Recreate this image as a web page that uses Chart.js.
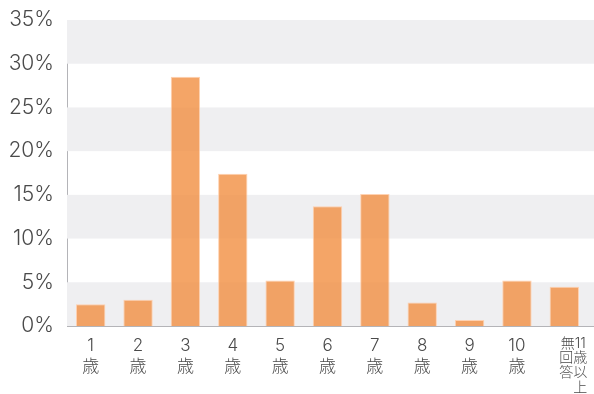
<!DOCTYPE html>
<html>
<head>
<meta charset="utf-8">
<script src="https://cdn.jsdelivr.net/npm/chart.js@4"></script>
<style>
  html, body { margin: 0; padding: 0; background: #fff; }
  #wrap { width: 594px; height: 394px; }
</style>
</head>
<body>
<div id="wrap"><canvas id="ageChart" width="594" height="394"></canvas></div>
<script>
const categories = [
  ['1', '歳'], ['2', '歳'], ['3', '歳'], ['4', '歳'], ['5', '歳'],
  ['6', '歳'], ['7', '歳'], ['8', '歳'], ['9', '歳'], ['10', '歳'],
  ['　 無11', '　 回歳', '　 答以', '　 　上', '　 　・']
];
const shares = [2.5, 3.0, 28.5, 17.4, 5.2, 13.7, 15.1, 2.7, 0.7, 5.2, 4.5];
const yTicks = [0, 5, 10, 15, 20, 25, 30, 35];

const fontFamily = "'Inter', 'Helvetica Neue', 'Noto Sans CJK JP', sans-serif";
const lastIdx = categories.length - 1;

// alternating grey bands, drawn from the y scale
const bandPlugin = {
  id: 'bands',
  beforeDatasetsDraw(chart) {
    const { ctx, chartArea, scales } = chart;
    const y = scales.y;
    ctx.save();
    ctx.fillStyle = '#efeff1';
    for (let i = 0; i < yTicks.length - 1; i++) {
      if (i % 2 !== 0) continue;
      const top = y.getPixelForValue(yTicks[i + 1]);
      const bottom = y.getPixelForValue(yTicks[i]);
      ctx.fillRect(chartArea.left, top, chart.width - chartArea.left, bottom - top);
    }
    ctx.strokeStyle = '#b4b4b8';
    ctx.lineWidth = 1;
    ctx.beginPath();
    ctx.moveTo(chartArea.right, chartArea.bottom + 0.5);
    ctx.lineTo(chart.width, chartArea.bottom + 0.5);
    ctx.stroke();
    ctx.restore();
  }
};

const ctx = document.getElementById('ageChart').getContext('2d');
new Chart(ctx, {
  type: 'bar',
  data: {
    labels: categories,
    datasets: [{
      data: shares,
      backgroundColor: 'rgba(241,145,70,0.82)',
      borderColor: 'rgba(255,205,170,0.9)',
      borderWidth: { top: 1, left: 1, right: 1, bottom: 0 },
      barPercentage: 0.62,
      categoryPercentage: 1.0
    }]
  },
  plugins: [bandPlugin],
  options: {
    responsive: false,
    animation: false,
    layout: { padding: { top: 20, right: 6, left: 0, bottom: 0 } },
    plugins: {
      legend: { display: false },
      tooltip: { enabled: false }
    },
    scales: {
      x: {
        grid: { display: false },
        border: { display: true, color: '#b4b4b8', width: 1 },
        ticks: {
          autoSkip: false,
          maxRotation: 0,
          minRotation: 0,
          padding: 2,
          color: '#4a4a4a',
          font: (c) => c.index === lastIdx
            ? { family: fontFamily, size: 14, weight: 300, lineHeight: 1.05 }
            : { family: fontFamily, size: 17, weight: 300, lineHeight: 1.2 }
        },
        afterFit: (scale) => { scale.height = 68; }
      },
      y: {
        min: 0,
        max: 35,
        grid: { display: false },
        border: { display: true, color: '#b4b4b8', width: 1 },
        ticks: {
          stepSize: 5,
          padding: 5,
          color: '#4a4a4a',
          font: { family: fontFamily, size: 21, weight: 300 },
          callback: (v) => v + '%'
        },
        afterFit: (scale) => { scale.width = 67; }
      }
    }
  }
});
</script>
</body>
</html>
